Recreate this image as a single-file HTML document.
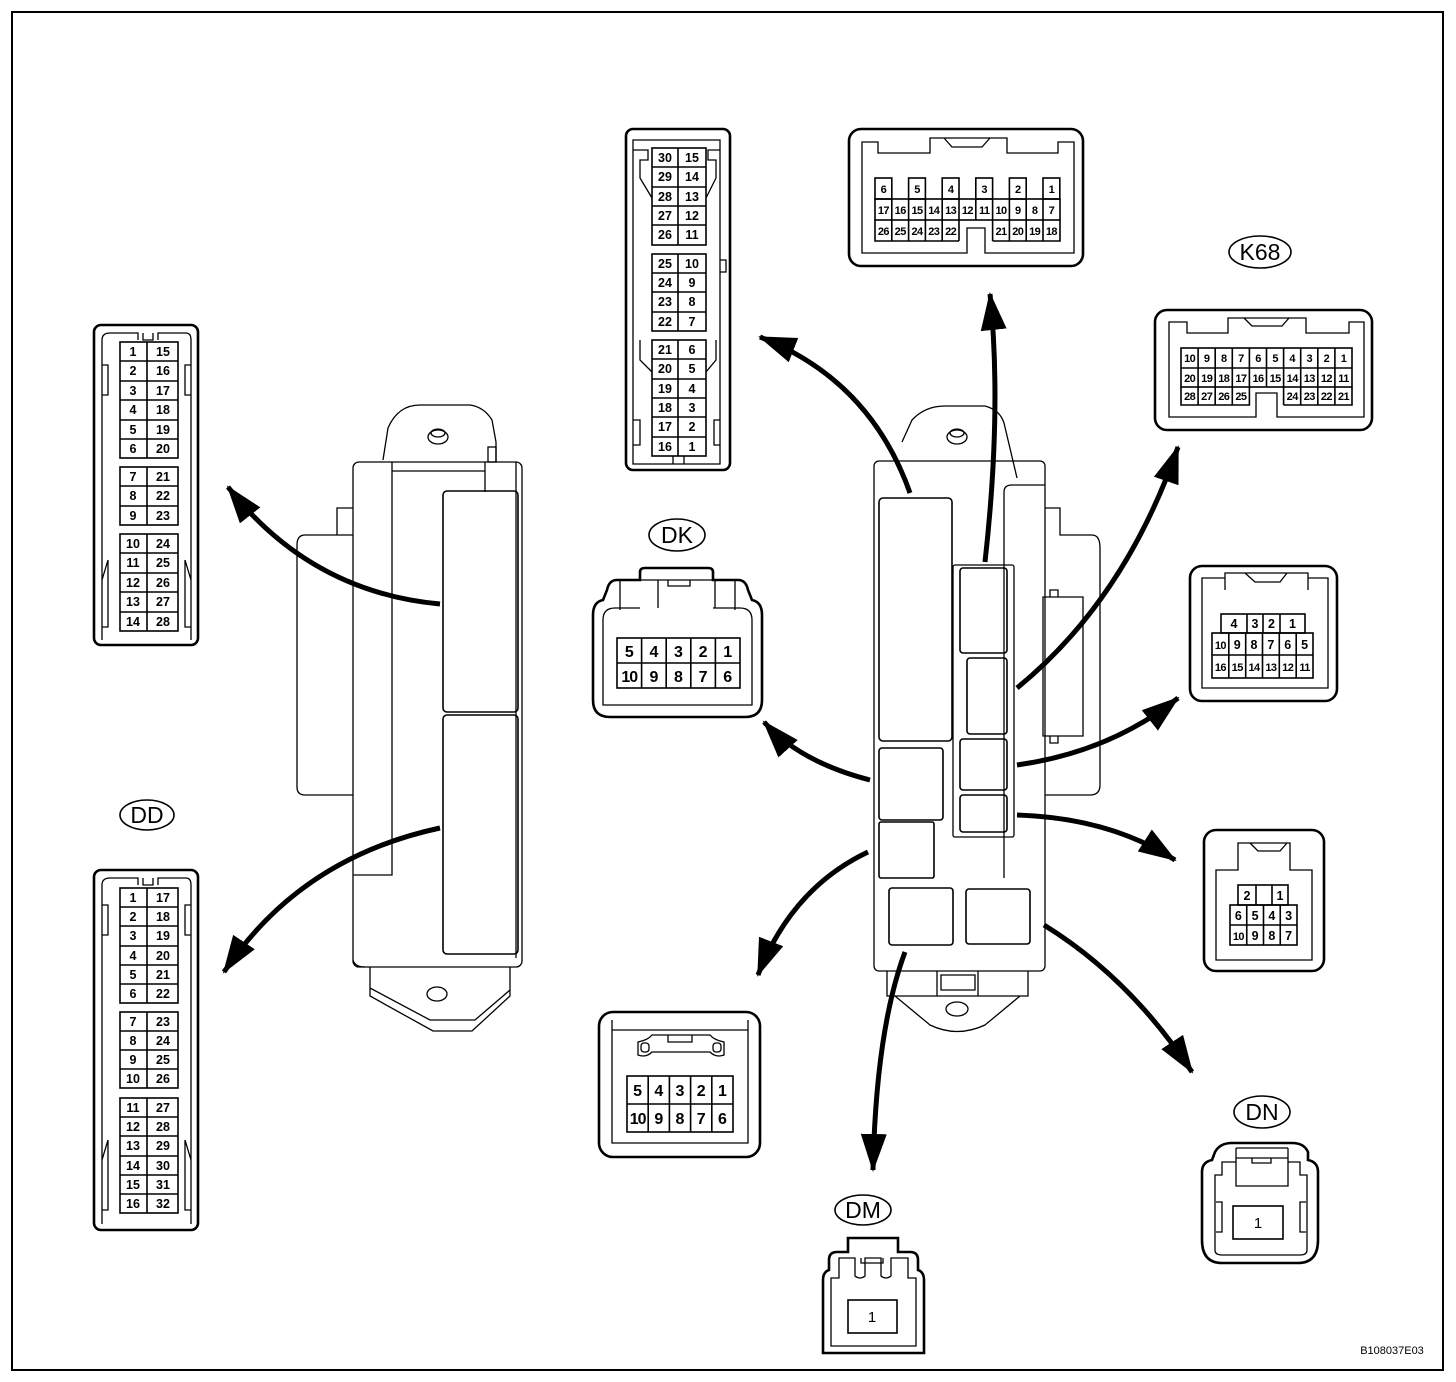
<!DOCTYPE html>
<html><head><meta charset="utf-8"><style>
html,body{margin:0;padding:0;background:#fff}
svg{display:block}
.t{font-family:"Liberation Sans",Arial,sans-serif;font-weight:bold;font-size:12.5px;text-anchor:middle;fill:#000}
.s{font-family:"Liberation Sans",Arial,sans-serif;font-weight:bold;font-size:11px;text-anchor:middle;fill:#000;letter-spacing:-0.6px}
.b{font-family:"Liberation Sans",Arial,sans-serif;font-weight:bold;font-size:16px;text-anchor:middle;fill:#000}
.l{font-family:"Liberation Sans",Arial,sans-serif;font-size:23px;text-anchor:middle;fill:#000}
.k{fill:none;stroke:#000;stroke-width:2.6}
.n{fill:none;stroke:#000;stroke-width:1.3}
.g{fill:none;stroke:#000;stroke-width:1.6}
.a{fill:none;stroke:#000;stroke-width:5}
</style></head><body>
<svg width="1456" height="1382" viewBox="0 0 1456 1382" xmlns="http://www.w3.org/2000/svg">
<defs><marker id="ah" markerUnits="userSpaceOnUse" markerWidth="50" markerHeight="40" refX="36" refY="13" orient="auto"><path d="M0,0 L38,13 L0,26 Z" fill="#000"/></marker></defs>
<rect x="12" y="12" width="1431" height="1358" fill="none" stroke="#000" stroke-width="2"/>
<text x="1392" y="1354" style="font-family:'Liberation Sans',sans-serif;font-size:11px;text-anchor:middle">B108037E03</text>

<!-- LEFT ECU -->
<path class="n" d="M383,460 L388,428 Q398,405 420,405 L470,405 Q484,407 492,420 L496,442 L496,462"/>
<rect class="n" x="488" y="447" width="8" height="15"/>
<ellipse class="n" cx="438" cy="437" rx="10" ry="7"/><ellipse class="n" cx="438" cy="433" rx="7" ry="4"/>
<path class="n" d="M337,535 L337,508 L353,508 M353,535 L305,535 Q297,535 297,545 L297,787 Q297,795 305,795 L353,795"/>
<rect class="n" x="353" y="462" width="169" height="505" rx="6"/>
<path class="n" d="M353,875 L392,875 L392,462 M392,471 L485,471 M485,462 L485,492 M516,462 L516,958 M353,960 Q355,967 365,967"/>
<rect class="g" x="443" y="491" width="75" height="221" rx="4"/>
<rect class="g" x="443" y="715" width="75" height="239" rx="4"/>
<path class="n" d="M370,967 L370,996 L433,1031 L472,1031 L510,996 L510,967 M370,988 L430,1020 L475,1020 L510,990"/>
<ellipse class="n" cx="437" cy="994" rx="10" ry="7"/>

<!-- RIGHT ECU -->
<path class="n" d="M902,442 L912,420 Q925,406 945,406 L985,406 Q1000,410 1004,423 L1017,478"/>
<ellipse class="n" cx="957" cy="437" rx="10" ry="7"/><ellipse class="n" cx="957" cy="433" rx="7" ry="4"/>
<rect class="n" x="874" y="461" width="171" height="510" rx="5"/>
<path class="n" d="M1004,878 L1004,492 Q1004,485 1012,485 L1045,485"/>
<path class="n" d="M1045,508 L1060,508 L1060,535 L1092,535 Q1100,535 1100,548 L1100,785 Q1100,795 1090,795 L1045,795"/>
<path class="n" d="M1043,597 L1083,597 L1083,736 L1043,736 Z M1050,597 L1050,590 L1058,590 L1058,597 M1050,736 L1050,743 L1058,743 L1058,736"/>
<rect class="g" x="879" y="498" width="73" height="243" rx="4"/>
<rect class="g" x="879" y="748" width="64" height="72" rx="3"/>
<rect class="g" x="879" y="822" width="55" height="56" rx="2"/>
<rect class="n" x="953" y="565" width="61" height="272" rx="2"/>
<rect class="g" x="960" y="568" width="47" height="85" rx="3"/>
<rect class="g" x="967" y="658" width="40" height="76" rx="3"/>
<rect class="g" x="960" y="739" width="47" height="51" rx="3"/>
<rect class="g" x="960" y="795" width="47" height="37" rx="3"/>
<rect class="g" x="889" y="888" width="64" height="57" rx="3"/>
<rect class="g" x="966" y="889" width="64" height="55" rx="3"/>
<path class="n" d="M887,971 L887,996 L1028,996 L1028,971 M937,971 L937,996 M978,971 L978,996 M941,975 L975,975 L975,990 L941,990 Z M895,996 L930,1025 Q957,1038 985,1025 L1020,996"/>
<ellipse class="n" cx="957" cy="1009" rx="11" ry="7"/>

<!-- ARROWS -->
<path class="a" marker-end="url(#ah)" d="M910,493 Q870,380 760,337"/>
<path class="a" marker-end="url(#ah)" d="M985,562 Q1002,410 990,294"/>
<path class="a" marker-end="url(#ah)" d="M1017,688 Q1125,600 1178,447"/>
<path class="a" marker-end="url(#ah)" d="M1017,765 Q1110,752 1178,698"/>
<path class="a" marker-end="url(#ah)" d="M870,780 Q800,762 764,722"/>
<path class="a" marker-end="url(#ah)" d="M1017,815 Q1110,818 1175,860"/>
<path class="a" marker-end="url(#ah)" d="M868,852 Q792,888 758,975"/>
<path class="a" marker-end="url(#ah)" d="M1044,925 Q1130,978 1192,1072"/>
<path class="a" marker-end="url(#ah)" d="M905,952 Q876,1030 873,1170"/>
<path class="a" marker-end="url(#ah)" d="M440,604 Q310,592 228,487"/>
<path class="a" marker-end="url(#ah)" d="M440,828 Q300,858 224,972"/>

<!-- 28 pin left -->
<rect class="k" x="94" y="325" width="104" height="320" rx="7"/>
<path class="n" d="M102,640 L102,340 Q102,333 110,333 L138,333 L138,340 M158,340 L158,333 L186,333 Q191,333 191,340 L191,640 M143,333 L143,340 L153,340 L153,333 M102,365 L108,365 L108,395 L102,395 M191,365 L185,365 L185,395 L191,395 M102,580 L108,560 L108,627 L102,627 M191,580 L185,560 L185,627 L191,627"/>
<g class="g"><rect x="120" y="342" width="58" height="116"/><rect x="120" y="467" width="58" height="58"/><rect x="120" y="534" width="58" height="97"/>
<path d="M147,342V458M147,467V525M147,534V631M120,361H178M120,381H178M120,400H178M120,420H178M120,439H178M120,486H178M120,506H178M120,553H178M120,573H178M120,592H178M120,612H178"/></g>
<text class="t" x="133" y="356">1</text><text class="t" x="163" y="356">15</text>
<text class="t" x="133" y="375">2</text><text class="t" x="163" y="375">16</text>
<text class="t" x="133" y="395">3</text><text class="t" x="163" y="395">17</text>
<text class="t" x="133" y="414">4</text><text class="t" x="163" y="414">18</text>
<text class="t" x="133" y="434">5</text><text class="t" x="163" y="434">19</text>
<text class="t" x="133" y="453">6</text><text class="t" x="163" y="453">20</text>
<text class="t" x="133" y="481">7</text><text class="t" x="163" y="481">21</text>
<text class="t" x="133" y="500">8</text><text class="t" x="163" y="500">22</text>
<text class="t" x="133" y="520">9</text><text class="t" x="163" y="520">23</text>
<text class="t" x="133" y="548">10</text><text class="t" x="163" y="548">24</text>
<text class="t" x="133" y="567">11</text><text class="t" x="163" y="567">25</text>
<text class="t" x="133" y="587">12</text><text class="t" x="163" y="587">26</text>
<text class="t" x="133" y="606">13</text><text class="t" x="163" y="606">27</text>
<text class="t" x="133" y="626">14</text><text class="t" x="163" y="626">28</text>

<!-- DD -->
<ellipse cx="147" cy="815" rx="27" ry="15" class="g"/><text class="l" x="147" y="823">DD</text>
<rect class="k" x="94" y="870" width="104" height="360" rx="7"/>
<path class="n" d="M102,1224 L102,885 Q102,878 110,878 L138,878 L138,885 M158,885 L158,878 L186,878 Q191,878 191,885 L191,1224 M143,878 L143,885 L153,885 L153,878 M102,905 L108,905 L108,935 L102,935 M191,905 L185,905 L185,935 L191,935 M102,1160 L108,1140 L108,1210 L102,1210 M191,1160 L185,1140 L185,1210 L191,1210"/>
<g class="g"><rect x="120" y="888" width="58" height="115"/><rect x="120" y="1012" width="58" height="76"/><rect x="120" y="1098" width="58" height="115"/>
<path d="M147,888V1003M147,1012V1088M147,1098V1213M120,907H178M120,926H178M120,946H178M120,965H178M120,984H178M120,1031H178M120,1050H178M120,1069H178M120,1117H178M120,1136H178M120,1156H178M120,1175H178M120,1194H178"/></g>
<text class="t" x="133" y="902">1</text><text class="t" x="163" y="902">17</text>
<text class="t" x="133" y="921">2</text><text class="t" x="163" y="921">18</text>
<text class="t" x="133" y="940">3</text><text class="t" x="163" y="940">19</text>
<text class="t" x="133" y="960">4</text><text class="t" x="163" y="960">20</text>
<text class="t" x="133" y="979">5</text><text class="t" x="163" y="979">21</text>
<text class="t" x="133" y="998">6</text><text class="t" x="163" y="998">22</text>
<text class="t" x="133" y="1026">7</text><text class="t" x="163" y="1026">23</text>
<text class="t" x="133" y="1045">8</text><text class="t" x="163" y="1045">24</text>
<text class="t" x="133" y="1064">9</text><text class="t" x="163" y="1064">25</text>
<text class="t" x="133" y="1083">10</text><text class="t" x="163" y="1083">26</text>
<text class="t" x="133" y="1112">11</text><text class="t" x="163" y="1112">27</text>
<text class="t" x="133" y="1131">12</text><text class="t" x="163" y="1131">28</text>
<text class="t" x="133" y="1150">13</text><text class="t" x="163" y="1150">29</text>
<text class="t" x="133" y="1170">14</text><text class="t" x="163" y="1170">30</text>
<text class="t" x="133" y="1189">15</text><text class="t" x="163" y="1189">31</text>
<text class="t" x="133" y="1208">16</text><text class="t" x="163" y="1208">32</text>

<!-- 30 pin top -->
<rect class="k" x="626" y="129" width="104" height="341" rx="7"/>
<path class="n" d="M633,464 L633,140 L720,140 L720,464 Z M633,150 L648,150 L648,160 L640,160 L640,178 L652,198 M720,150 L708,150 L708,160 L716,160 L716,178 L706,198 M720,260 L726,260 L726,272 L720,272 M640,340 L640,360 L652,372 M716,340 L716,360 L706,372 M633,420 L640,420 L640,445 L633,445 M720,420 L714,420 L714,445 L720,445 M673,456 L673,464 L684,464 L684,456"/>
<g class="g"><rect x="652" y="148" width="54" height="97"/><rect x="652" y="254" width="54" height="77"/><rect x="652" y="340" width="54" height="116"/>
<path d="M678,148V245M678,254V331M678,340V456M652,167H706M652,187H706M652,206H706M652,225H706M652,273H706M652,292H706M652,312H706M652,359H706M652,379H706M652,398H706M652,417H706M652,437H706"/></g>
<text class="t" x="665" y="162">30</text><text class="t" x="692" y="162">15</text>
<text class="t" x="665" y="181">29</text><text class="t" x="692" y="181">14</text>
<text class="t" x="665" y="201">28</text><text class="t" x="692" y="201">13</text>
<text class="t" x="665" y="220">27</text><text class="t" x="692" y="220">12</text>
<text class="t" x="665" y="239">26</text><text class="t" x="692" y="239">11</text>
<text class="t" x="665" y="268">25</text><text class="t" x="692" y="268">10</text>
<text class="t" x="665" y="287">24</text><text class="t" x="692" y="287">9</text>
<text class="t" x="665" y="306">23</text><text class="t" x="692" y="306">8</text>
<text class="t" x="665" y="326">22</text><text class="t" x="692" y="326">7</text>
<text class="t" x="665" y="354">21</text><text class="t" x="692" y="354">6</text>
<text class="t" x="665" y="373">20</text><text class="t" x="692" y="373">5</text>
<text class="t" x="665" y="393">19</text><text class="t" x="692" y="393">4</text>
<text class="t" x="665" y="412">18</text><text class="t" x="692" y="412">3</text>
<text class="t" x="665" y="431">17</text><text class="t" x="692" y="431">2</text>
<text class="t" x="665" y="451">16</text><text class="t" x="692" y="451">1</text>

<!-- 26 pin top right -->
<rect class="k" x="849" y="129" width="234" height="137" rx="12"/>
<path class="n" d="M862,253 L862,142 L878,142 L878,153 L930,153 L930,138 L1007,138 L1007,153 L1058,153 L1058,142 L1074,142 L1074,253 L985,253 L985,228 L967,228 L967,253 Z M944,138 L952,147 L982,147 L990,138"/>
<g class="g">
<rect x="875" y="178" width="16.8" height="21"/><rect x="908.6" y="178" width="16.8" height="21"/><rect x="942.2" y="178" width="16.8" height="21"/><rect x="975.8" y="178" width="16.8" height="21"/><rect x="1009.4" y="178" width="16.8" height="21"/><rect x="1043" y="178" width="16.8" height="21"/>
<rect x="875" y="199" width="185" height="21"/>
<path d="M891.8,199V241M908.6,199V241M925.4,199V241M942.2,199V241M959,199V241M975.8,199V220M992.6,199V241M1009.4,199V241M1026.2,199V241M1043,199V241M875,220V241H959M992.6,241H1060V220"/>
</g>
<text class="s" x="883.4" y="193">6</text><text class="s" x="917" y="193">5</text><text class="s" x="950.6" y="193">4</text><text class="s" x="984.2" y="193">3</text><text class="s" x="1017.8" y="193">2</text><text class="s" x="1051.4" y="193">1</text>
<text class="s" x="883.4" y="214">17</text><text class="s" x="900.2" y="214">16</text><text class="s" x="917" y="214">15</text><text class="s" x="933.8" y="214">14</text><text class="s" x="950.6" y="214">13</text><text class="s" x="967.4" y="214">12</text><text class="s" x="984.2" y="214">11</text><text class="s" x="1001" y="214">10</text><text class="s" x="1017.8" y="214">9</text><text class="s" x="1034.6" y="214">8</text><text class="s" x="1051.4" y="214">7</text>
<text class="s" x="883.4" y="235">26</text><text class="s" x="900.2" y="235">25</text><text class="s" x="917" y="235">24</text><text class="s" x="933.8" y="235">23</text><text class="s" x="950.6" y="235">22</text><text class="s" x="1001" y="235">21</text><text class="s" x="1017.8" y="235">20</text><text class="s" x="1034.6" y="235">19</text><text class="s" x="1051.4" y="235">18</text>

<!-- K68 -->
<ellipse cx="1260" cy="252" rx="31" ry="16" class="g"/><text class="l" x="1260" y="260">K68</text>
<rect class="k" x="1155" y="310" width="217" height="120" rx="12"/>
<path class="n" d="M1169,417 L1169,322 L1187,322 L1187,333 L1228,333 L1228,318 L1306,318 L1306,333 L1349,333 L1349,322 L1364,322 L1364,417 L1277,417 L1277,393 L1256,393 L1256,417 Z M1244,318 L1252,326 L1282,326 L1289,318"/>
<g class="g"><rect x="1181" y="348" width="171" height="39"/>
<path d="M1198.1,348V405M1215.2,348V405M1232.3,348V405M1249.4,348V387M1266.5,348V387M1283.6,348V405M1300.7,348V405M1317.8,348V405M1334.9,348V405M1181,368H1352M1181,387V405H1249.4V387M1283.6,405H1352V387"/></g>
<text class="s" x="1189.6" y="362">10</text><text class="s" x="1206.7" y="362">9</text><text class="s" x="1223.8" y="362">8</text><text class="s" x="1240.9" y="362">7</text><text class="s" x="1258" y="362">6</text><text class="s" x="1275.1" y="362">5</text><text class="s" x="1292.2" y="362">4</text><text class="s" x="1309.3" y="362">3</text><text class="s" x="1326.4" y="362">2</text><text class="s" x="1343.5" y="362">1</text>
<text class="s" x="1189.6" y="382">20</text><text class="s" x="1206.7" y="382">19</text><text class="s" x="1223.8" y="382">18</text><text class="s" x="1240.9" y="382">17</text><text class="s" x="1258" y="382">16</text><text class="s" x="1275.1" y="382">15</text><text class="s" x="1292.2" y="382">14</text><text class="s" x="1309.3" y="382">13</text><text class="s" x="1326.4" y="382">12</text><text class="s" x="1343.5" y="382">11</text>
<text class="s" x="1189.6" y="400">28</text><text class="s" x="1206.7" y="400">27</text><text class="s" x="1223.8" y="400">26</text><text class="s" x="1240.9" y="400">25</text><text class="s" x="1292.2" y="400">24</text><text class="s" x="1309.3" y="400">23</text><text class="s" x="1326.4" y="400">22</text><text class="s" x="1343.5" y="400">21</text>

<!-- 16 pin right -->
<rect class="k" x="1190" y="566" width="147" height="135" rx="12"/>
<path class="n" d="M1202,688 L1202,578 L1225,578 L1225,573 L1308,573 L1308,578 L1328,578 L1328,688 Z M1225,573 L1225,590 M1308,573 L1308,590 M1245,573 L1255,582 L1280,582 L1287,573"/>
<g class="g"><rect x="1221" y="614" width="84" height="19"/><path d="M1247,614V633M1263,614V633M1280,614V633"/>
<rect x="1212" y="633" width="101" height="45"/><path d="M1228.8,633V678M1245.7,633V678M1262.5,633V678M1279.3,633V678M1296.2,633V678M1212,655H1313"/></g>
<text class="t" x="1234" y="628">4</text><text class="t" x="1255" y="628">3</text><text class="t" x="1271.5" y="628">2</text><text class="t" x="1292.5" y="628">1</text>
<text class="s" x="1220.4" y="649">10</text><text class="t" x="1237.2" y="649">9</text><text class="t" x="1254" y="649">8</text><text class="t" x="1270.9" y="649">7</text><text class="t" x="1287.7" y="649">6</text><text class="t" x="1304.6" y="649">5</text>
<text class="s" x="1220.4" y="671">16</text><text class="s" x="1237.2" y="671">15</text><text class="s" x="1254" y="671">14</text><text class="s" x="1270.9" y="671">13</text><text class="s" x="1287.7" y="671">12</text><text class="s" x="1304.6" y="671">11</text>

<!-- 10 pin right -->
<rect class="k" x="1204" y="830" width="120" height="141" rx="12"/>
<path class="n" d="M1216,960 L1216,870 L1238,870 L1238,843 L1290,843 L1290,870 L1312,870 L1312,960 Z M1250,843 L1258,851 L1280,851 L1287,843"/>
<g class="g"><rect x="1238" y="885" width="50" height="20"/><path d="M1256,885V905M1272,885V905"/>
<rect x="1230" y="905" width="67" height="40"/><path d="M1246.75,905V945M1263.5,905V945M1280.25,905V945M1230,925H1297"/></g>
<text class="t" x="1247" y="900">2</text><text class="t" x="1280" y="900">1</text>
<text class="t" x="1238.4" y="920">6</text><text class="t" x="1255.1" y="920">5</text><text class="t" x="1271.9" y="920">4</text><text class="t" x="1288.6" y="920">3</text>
<text class="s" x="1238.4" y="940">10</text><text class="t" x="1255.1" y="940">9</text><text class="t" x="1271.9" y="940">8</text><text class="t" x="1288.6" y="940">7</text>

<!-- DK -->
<ellipse cx="677" cy="535" rx="28" ry="16" class="g"/><text class="l" x="677" y="543">DK</text>
<path class="k" d="M640,580 L640,572 Q640,568 645,568 L708,568 Q713,568 713,572 L713,580 L738,580 Q746,580 748,590 L752,600 Q762,602 762,615 L762,700 Q762,717 745,717 L610,717 Q593,717 593,700 L593,615 Q593,602 603,600 L607,590 Q609,580 617,580 Z"/>
<path class="n" d="M640,608 L615,608 Q603,608 603,620 L603,705 L752,705 L752,620 Q752,608 740,608 L713,608 M640,580 L658,580 L658,608 M697,580 L715,580 L715,608 M620,580 L620,610 M735,580 L735,610 M658,580 L697,580 M668,580 L668,586 L690,586 L690,580"/>
<g class="g"><rect x="617" y="638" width="123" height="50"/><path d="M641.6,638V688M666.2,638V688M690.8,638V688M715.4,638V688M617,663H740"/></g>
<text class="b" x="629.3" y="657">5</text><text class="b" x="653.9" y="657">4</text><text class="b" x="678.5" y="657">3</text><text class="b" x="703.1" y="657">2</text><text class="b" x="727.7" y="657">1</text>
<text class="b" x="629.3" y="682" style="letter-spacing:-1px">10</text><text class="b" x="653.9" y="682">9</text><text class="b" x="678.5" y="682">8</text><text class="b" x="703.1" y="682">7</text><text class="b" x="727.7" y="682">6</text>

<!-- bottom 10 pin -->
<rect class="k" x="599" y="1012" width="161" height="145" rx="14"/>
<path class="n" d="M612,1020 L612,1143 L748,1143 L748,1020 M612,1030 L748,1030 M638,1055 L638,1042 Q648,1040 652,1035 L710,1035 Q714,1040 724,1042 L724,1055 Q716,1058 710,1052 L652,1052 Q646,1058 638,1055 Z M668,1035 L668,1042 L692,1042 L692,1035"/>
<rect class="n" x="641" y="1043" width="8" height="9" rx="3"/><rect class="n" x="713" y="1043" width="8" height="9" rx="3"/>
<g class="g"><rect x="627" y="1076" width="106" height="56"/><path d="M648.2,1076V1132M669.4,1076V1132M690.6,1076V1132M711.8,1076V1132M627,1104H733"/></g>
<text class="b" x="637.6" y="1096">5</text><text class="b" x="658.8" y="1096">4</text><text class="b" x="680" y="1096">3</text><text class="b" x="701.2" y="1096">2</text><text class="b" x="722.4" y="1096">1</text>
<text class="b" x="637.6" y="1124" style="letter-spacing:-1px">10</text><text class="b" x="658.8" y="1124">9</text><text class="b" x="680" y="1124">8</text><text class="b" x="701.2" y="1124">7</text><text class="b" x="722.4" y="1124">6</text>

<!-- DM -->
<ellipse cx="863" cy="1210" rx="28" ry="15" class="g"/><text class="l" x="863" y="1218">DM</text>
<path class="k" d="M848,1252 L848,1238 L898,1238 L898,1252 L910,1252 Q918,1252 918,1260 L918,1270 Q924,1272 924,1280 L924,1353 L823,1353 L823,1280 Q823,1272 829,1270 L829,1260 Q829,1252 837,1252 Z"/>
<path class="n" d="M831,1346 L916,1346 L916,1278 L908,1278 L908,1258 L891,1258 L891,1276 Q886,1280 881,1276 L881,1258 L865,1258 L865,1276 Q860,1280 855,1276 L855,1258 L839,1258 L839,1278 L831,1278 Z M861,1258 L861,1263 L883,1263 L883,1258"/>
<rect class="g" x="848" y="1300" width="49" height="33"/><text class="t" x="872" y="1322" style="font-weight:normal;font-size:15px">1</text>

<!-- DN -->
<ellipse cx="1262" cy="1112" rx="28" ry="16" class="g"/><text class="l" x="1262" y="1120">DN</text>
<path class="k" d="M1215,1152 Q1220,1143 1232,1143 L1292,1143 Q1304,1143 1308,1152 L1308,1160 Q1318,1162 1318,1172 L1318,1240 Q1318,1263 1298,1263 L1222,1263 Q1202,1263 1202,1240 L1202,1172 Q1202,1162 1212,1160 Z"/>
<path class="n" d="M1215,1250 L1215,1175 L1222,1175 L1222,1162 L1236,1162 L1236,1186 L1288,1186 L1288,1162 L1300,1162 L1300,1175 L1307,1175 L1307,1250 Q1307,1255 1300,1255 L1222,1255 Q1215,1255 1215,1250 Z M1236,1148 L1236,1186 M1288,1148 L1288,1186 M1236,1148 L1288,1148 M1252,1158 L1252,1163 L1271,1163 L1271,1158 M1236,1158 L1288,1158 M1216,1202 L1222,1202 L1222,1232 L1216,1232 M1306,1202 L1300,1202 L1300,1232 L1306,1232"/>
<rect class="g" x="1233" y="1206" width="50" height="33"/><text class="t" x="1258" y="1228" style="font-weight:normal;font-size:15px">1</text>
</svg>
</body></html>
